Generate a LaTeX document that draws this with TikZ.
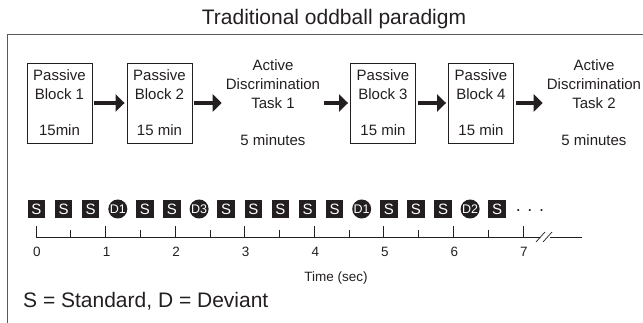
\documentclass[tikz,border=0pt]{standalone}
\usepackage{fontspec}
\setmainfont{Liberation Sans}
\usetikzlibrary{arrows.meta}
\definecolor{ink}{HTML}{231F20}
\newcommand{\sz}[2]{\fontsize{#1}{#2}\selectfont}

\tikzset{
    block/.style={draw=ink, line width=0.9pt, minimum width=65pt, minimum height=80pt, inner sep=0pt, align=center, font=\sz{15}{19}},
    task/.style={inner sep=2pt, align=center, font=\sz{15}{19}},
    flow/.style={-{Triangle[length=9pt,width=17pt]}, line width=4pt, draw=ink, shorten <=2pt, shorten >=2pt},
    standard/.style={fill=ink, text=white, minimum width=17.5pt, minimum height=18pt, inner sep=0pt, font=\sz{15}{15}},
    deviant/.style={circle, fill=ink, text=white, minimum size=19pt, inner sep=0pt, font=\sz{12.5}{12.5}},
}

\begin{document}
\begin{tikzpicture}[x=1pt, y=-1pt, text=ink]
        \useasboundingbox (0,0) rectangle (643,323);

        \node[anchor=base, font=\sz{21}{21}] (title) at (334,25) {Traditional oddball paradigm};
        \draw[black!65, line width=1pt] (643,35) -- (7.5,35) -- (7.5,323);

        % session order
        \node[block] (blk1) at (59.5,103) {Passive\\Block 1\\[17pt]15min};
        \node[block] (blk2) at (159.5,103) {Passive\\Block 2\\[17pt]15 min};
        \node[task] (task1) at (273,103) {Active\\Discrimination\\Task 1\\[18pt]5 minutes};
        \node[block] (blk3) at (383,103) {Passive\\Block 3\\[17pt]15 min};
        \node[block] (blk4) at (481,103) {Passive\\Block 4\\[17pt]15 min};
        \node[task] (task2) at (594,103) {Active\\Discrimination\\Task 2\\[18pt]5 minutes};

        \draw[flow] (blk1) -- (blk2);
        \draw[flow] (blk2) -- (task1);
        \draw[flow] (task1) -- (blk3);
        \draw[flow] (blk3) -- (blk4);
        \draw[flow] (blk4) -- (task2);

        % tone sequence
        \foreach \kind/\lbl [count=\i from 0] in {standard/S, standard/S, standard/S, deviant/D1, standard/S, standard/S, deviant/D3, standard/S, standard/S, standard/S, standard/S, standard/S, deviant/D1, standard/S, standard/S, standard/S, deviant/D2, standard/S}
            \node[\kind] (tone\i) at (36.5+27.1*\i,209) {\lbl};
        \node[anchor=base, font=\sz{18}{18}] (more) at (530,212) {. . .};

        % time axis
        \draw[ink, line width=0.8pt] (36,237) -- (540,237);
        \draw[ink, line width=0.8pt] (550,237) -- (582,237);
        \draw[ink, line width=0.7pt] (536,242) -- (545,232);
        \draw[ink, line width=0.7pt] (543,242) -- (552,232);
        \foreach \s in {0,...,7} {
            \draw[ink, line width=0.8pt] (36+69.57*\s,237) -- (36+69.57*\s,226);
            \node[anchor=base, font=\sz{13.5}{13.5}] (sec\s) at (37+69.57*\s,257) {\s};
        }
        \foreach \s in {0,...,6}
            \draw[ink, line width=0.8pt] (70.8+69.57*\s,237) -- (70.8+69.57*\s,230);
        \node[anchor=base, font=\sz{13.5}{13.5}] (axislbl) at (336,282) {Time (sec)};

        \node[anchor=base west, inner sep=0pt, font=\sz{21}{21}] (legend) at (23,308) {S = Standard, D = Deviant};
    \end{tikzpicture}
\end{document}
